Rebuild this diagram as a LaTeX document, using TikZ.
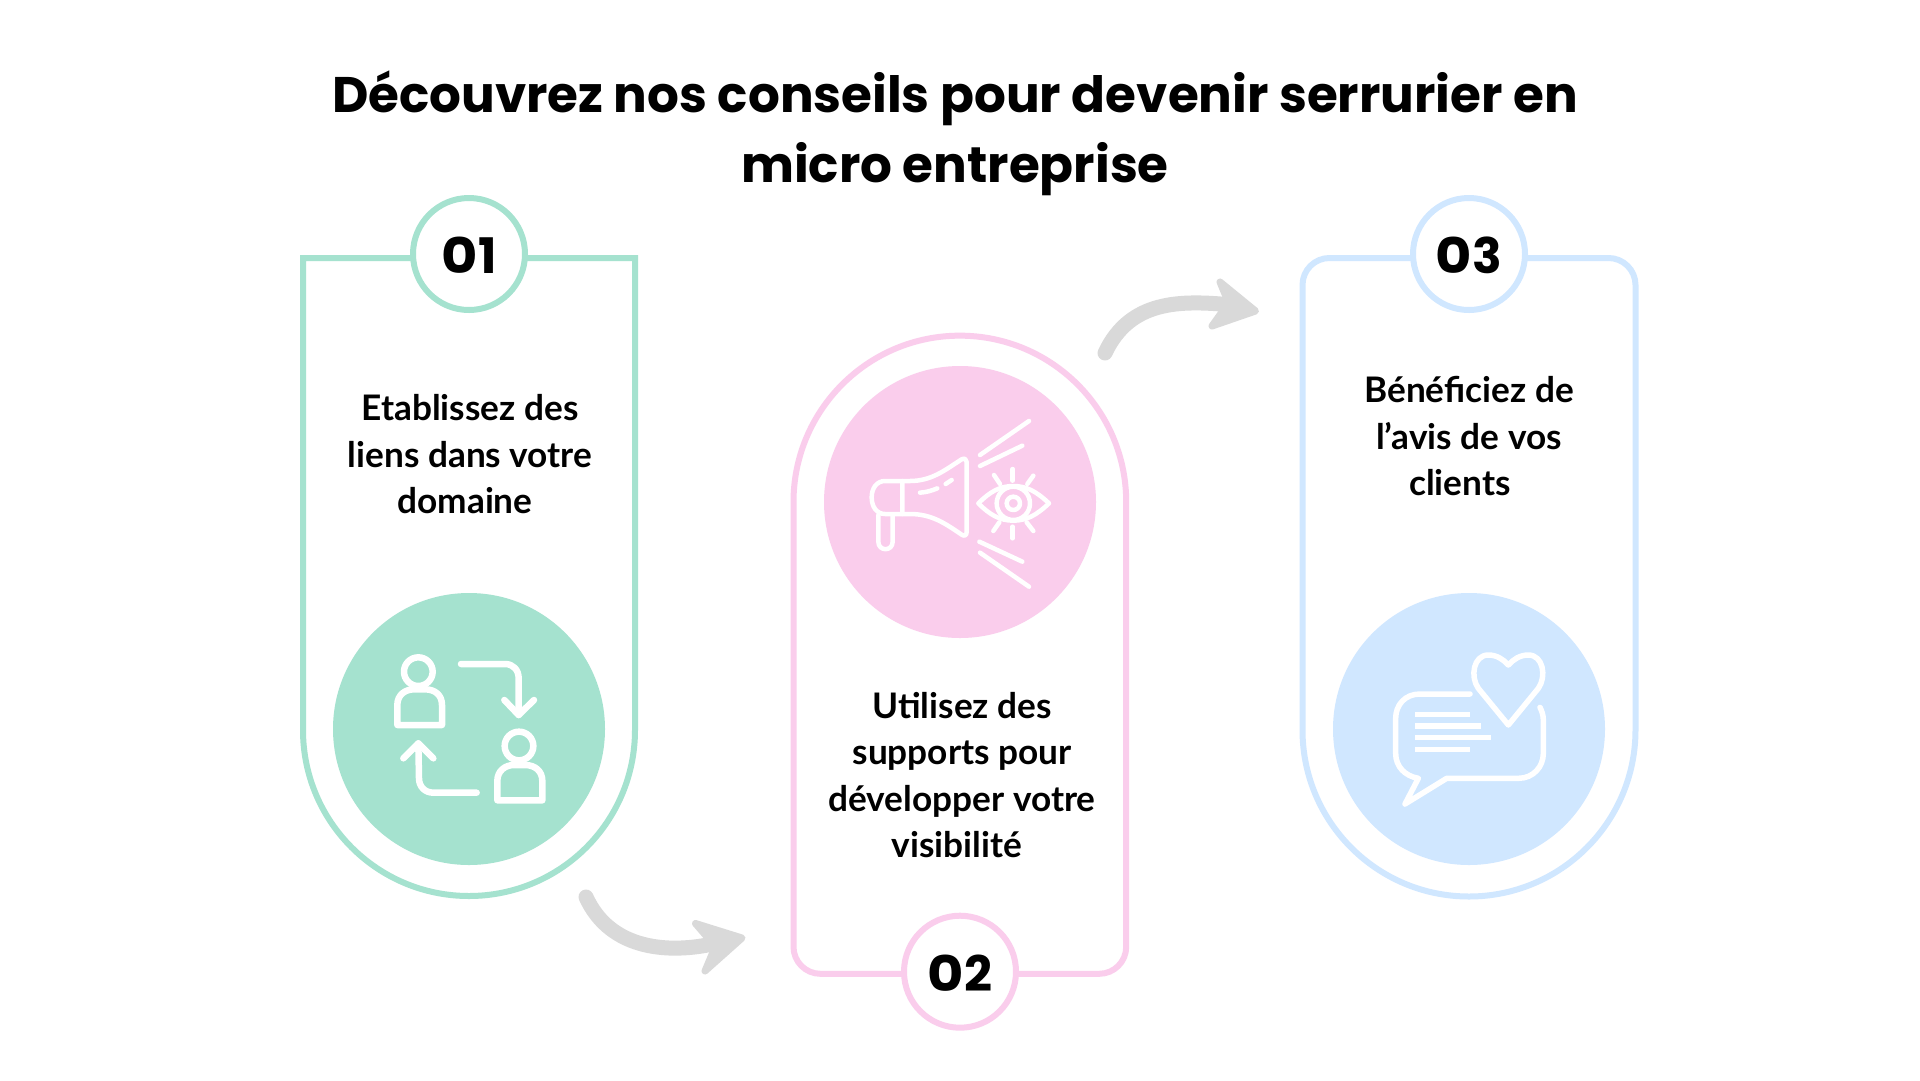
\documentclass[tikz,border=0pt]{standalone}
\usepackage{fontspec}
\setmainfont{Lato}
\newfontfamily\titlefont{Poppins}
\definecolor{cgreen}{HTML}{A5E2CF}
\definecolor{cpink}{HTML}{FACDEC}
\definecolor{cblue}{HTML}{D0E7FF}
\definecolor{cgray}{HTML}{D9D9D9}
\newcommand{\widezero}{\scalebox{1.14}[1]{0}\kern1pt}
\tikzset{
 panelline/.style={line width=6pt,fill=none},
 discnode/.style={circle,minimum size=272pt,inner sep=0pt},
 badgenode/.style={circle,fill=white,line width=6pt,minimum size=112pt,inner sep=0pt},
 numlabel/.style={inner sep=0pt,font=\titlefont\bfseries\fontsize{49}{49}\selectfont},
 bodytext/.style={align=center,inner sep=0pt,font=\bfseries\fontsize{35.2}{46.5}\selectfont,text=black},
 iconline/.style={draw=white,line cap=round,line join=round},
 bendline/.style={draw=cgray,line width=15pt,line cap=round},
 tiphead/.style={draw=cgray,fill=cgray,line width=7pt,line join=round},
}
\begin{document}
\begin{tikzpicture}[x=1pt,y=-1pt]
\useasboundingbox (0,0) rectangle (1920,1080);
\fill[white] (0,0) rectangle (1920,1080);
% title
\node[name=title,align=center,inner sep=0pt,font=\titlefont\bfseries\fontsize{50}{70}\selectfont] at (955,133.5) {Découvrez nos conseils pour devenir serrurier en\\micro entreprise};
% panels
\draw[panelline,draw=cgreen] (303,258) -- (635,258) -- (635,730) arc[start angle=0,end angle=180,radius=166] -- cycle;
\draw[panelline,draw=cpink] (793.5,502) arc[start angle=180,end angle=360,radius=166.35] -- (1126.2,946.8) arc[start angle=0,end angle=90,radius=27] -- (820.5,973.8) arc[start angle=90,end angle=180,radius=27] -- cycle;
\draw[panelline,draw=cblue] (1302.5,285) arc[start angle=180,end angle=270,radius=27] -- (1608.5,258) arc[start angle=270,end angle=360,radius=27] -- (1635.5,730) arc[start angle=0,end angle=180,radius=166.5] -- cycle;
% discs
\node[discnode,fill=cgreen] (d1) at (469,729) {};
\node[discnode,fill=cpink] (d2) at (960,502) {};
\node[discnode,fill=cblue] (d3) at (1469,729) {};
% badges
\node[badgenode,draw=cgreen] (b1) at (469,254) {};
\node[badgenode,draw=cpink] (b2) at (960,971.7) {};
\node[badgenode,draw=cblue] (b3) at (1469,254) {};
\node[numlabel] (n1) at (469,255.5) {\widezero 1};
\node[numlabel] (n2) at (960,973.5) {\widezero 2};
\node[numlabel] (n3) at (1469,255.5) {\widezero 3};
% texts
\node[bodytext] (t1) at (470,454.5) {Etablissez des\\liens dans votre\\domaine\hspace*{10pt}\mbox{}};
\node[bodytext] (t2) at (962,775) {Utilisez des\\supports pour\\développer votre\\visibilité\hspace*{10pt}\mbox{}};
\node[bodytext] (t3) at (1469,436.5) {Bénéficiez de\\l’avis de vos\\clients\hspace*{18pt}\mbox{}};
% green icon
\begin{scope}[shift={(290,580)},scale=0.33333,iconline,line width=6.5pt]
\draw (385,275) circle (43);
\draw (322,435) -- (322,375) .. controls (322,345) and (345,328) .. (372,328) -- (405,328) .. controls (435,328) and (456,345) .. (456,375) -- (456,435) -- cycle;
\draw (687,498) circle (43);
\draw (622,661) -- (622,603) .. controls (622,573) and (645,555) .. (672,555) -- (705,555) .. controls (735,555) and (757,573) .. (757,603) -- (757,661) -- cycle;
\draw (513,252) -- (645,252) .. controls (670,252) and (686,270) .. (686,295) -- (686,405);
\draw (643,360) -- (686,405) -- (732,360);
\draw (560,638) -- (430,638) .. controls (405,638) and (387,620) .. (387,595) -- (385,490);
\draw (340,535) -- (385,490) -- (430,535);
\end{scope}
% pink icon
\begin{scope}[shift={(820,360)},scale=0.33333,iconline,line width=4.5pt]
\draw (247,363) -- (195,363) .. controls (170,363) and (155,385) .. (155,412) .. controls (155,440) and (170,462) .. (195,462) -- (247,462) -- cycle;
\draw (247,363) -- (270,363) .. controls (335,363) and (375,330) .. (425,298) .. controls (433,293) and (440,298) .. (440,306) -- (440,516) .. controls (440,526) and (433,530) .. (425,524) .. controls (375,490) and (335,462) .. (270,462) -- (247,462);
\draw (175,465) -- (175,545) .. controls (175,575) and (218,575) .. (218,545) -- (218,465);
\draw (300,398) .. controls (318,397) and (335,392) .. (352,385);
\draw (377,372) -- (395,360);
\draw (480,285) -- (627,183);
\draw (480,318) -- (607,257);
\draw (478,545) -- (607,605);
\draw (480,578) -- (627,680);
\draw (475,430) .. controls (510,395) and (540,378) .. (580,378) .. controls (620,378) and (650,395) .. (687,430) .. controls (650,465) and (620,482) .. (580,482) .. controls (540,482) and (510,465) .. (475,430) -- cycle;
\draw (580,430) circle (50);
\draw (580,430) circle (20);
\draw (578,327) -- (578,362);
\draw (522,345) -- (540,372);
\draw (640,347) -- (622,372);
\draw (578,500) -- (578,535);
\draw (538,487) -- (520,513);
\draw (620,487) -- (640,513);
\end{scope}
% blue icon
\begin{scope}[shift={(1330,620)},scale=0.33333,iconline,line width=5.5pt]
\draw (420,222) -- (270,222) .. controls (225,222) and (197,255) .. (197,295) -- (197,400) .. controls (197,440) and (225,468) .. (265,475) -- (225,552) -- (350,475) -- (565,475) .. controls (610,475) and (640,440) .. (640,400) -- (640,300) .. controls (640,285) and (635,272) .. (630,262);
\draw (535,315) -- (445,205) .. controls (420,170) and (430,105) .. (475,105) .. controls (500,105) and (520,118) .. (535,135) .. controls (550,118) and (570,105) .. (595,105) .. controls (640,105) and (650,170) .. (625,205) -- cycle;
\begin{scope}[line cap=butt]
\draw (255,283) -- (420,283);
\draw (255,318) -- (452,318);
\draw (255,353) -- (484,353);
\draw (255,389) -- (420,389);
\end{scope}
\end{scope}
% grey arrows
\coordinate (a1s) at (586,897);
\coordinate (a1e) at (725,941);
\coordinate (a2s) at (1105,353);
\coordinate (a2e) at (1232,305);
\draw[bendline] (a1s) .. controls (610,950) and (670,956) .. (a1e);
\path[tiphead] (742,938) -- (695.5,923.5) -- (708,938) -- (713,952) -- (705,971) -- cycle;
\draw[bendline] (a2s) .. controls (1130,300) and (1180,300) .. (a2e);
\path[tiphead] (1255.5,311) -- (1220,282) -- (1227,299) -- (1222,312) -- (1212,326) -- cycle;
\end{tikzpicture}
\end{document}
